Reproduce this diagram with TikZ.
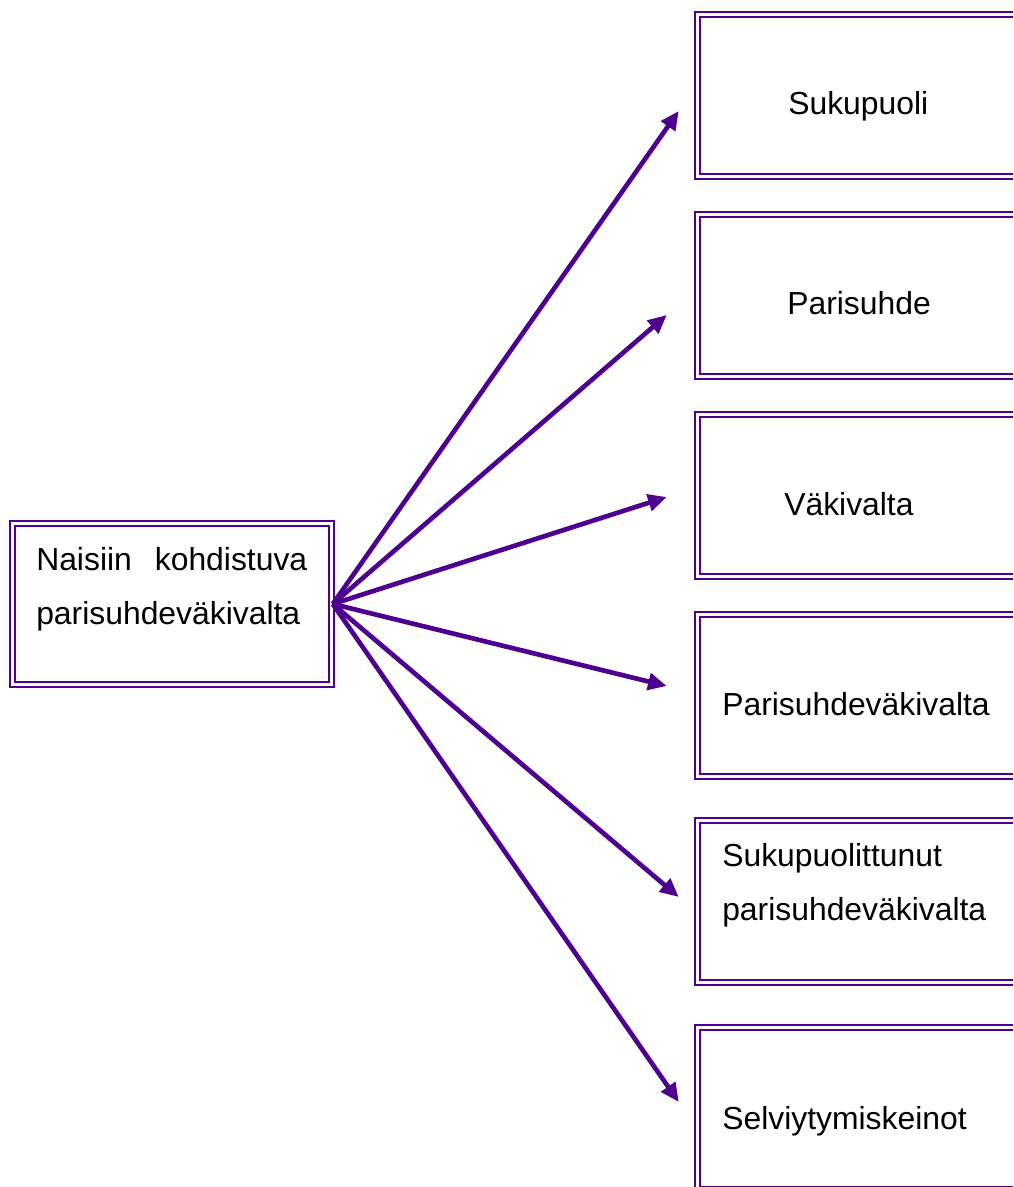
\documentclass[tikz,border=0pt]{standalone}
\usepackage{fontspec}
\setmainfont{Liberation Sans}
\usetikzlibrary{arrows.meta,calc}
\definecolor{vio}{RGB}{78,0,145}

\begin{document}
\begin{tikzpicture}[x=0.75pt,y=-0.75pt,
   font=\fontsize{23.9}{40.5}\selectfont,
   box/.style={draw=vio,double=white,line width=1.9pt,double distance=1.6pt,inner sep=0pt,minimum width=315pt,minimum height=121.5pt},
   lbl/.style={anchor=base west,inner sep=0pt,align=left,text width=250pt},
   arr/.style={draw=vio,line width=3.5pt,-{Triangle[length=14pt,width=12.5pt]}}]
   \clip (0,0) rectangle (1013,1187);

   \node[box,minimum width=239.25pt,minimum height=120.75pt] (a0) at (172,604) {};
   \node[box] (b1) at (907.5,95.5) {};
   \node[box] (b2) at (907.5,295.5) {};
   \node[box] (b3) at (907.5,495.5) {};
   \node[box] (b4) at (907.5,695.5) {};
   \node[box] (b5) at (907.5,901.5) {};
   \node[box] (b6) at (907.5,1108.5) {};

   \node[lbl,text width=203.25pt] (t0) at (36,570) {Naisiin\hfill kohdistuva\\parisuhdeväkivalta};
   \node[lbl] (t1) at (788,115) {Sukupuoli};
   \node[lbl] (t2) at (787,315) {Parisuhde};
   \node[lbl] (t3) at (784,515) {Väkivalta};
   \node[lbl] (t4) at (722,715) {Parisuhdeväkivalta};
   \node[lbl] (t5) at (722,866) {Sukupuolittunut\\parisuhdeväkivalta};
   \node[lbl] (t6) at (722,1129) {Selviytymiskeinot};

   \path (a0.east) edge[arr] ($(b1.west)+(-17.5,15.5)$);
   \path (a0.east) edge[arr] ($(b2.west)+(-29.5,19.5)$);
   \path (a0.east) edge[arr] ($(b3.west)+(-29.5,1.5)$);
   \path (a0.east) edge[arr] ($(b4.west)+(-29.5,-9.5)$);
   \path (a0.east) edge[arr] ($(b5.west)+(-17.5,-4.5)$);
   \path (a0.east) edge[arr] ($(b6.west)+(-17.5,-6.5)$);

\end{tikzpicture}
\end{document}
